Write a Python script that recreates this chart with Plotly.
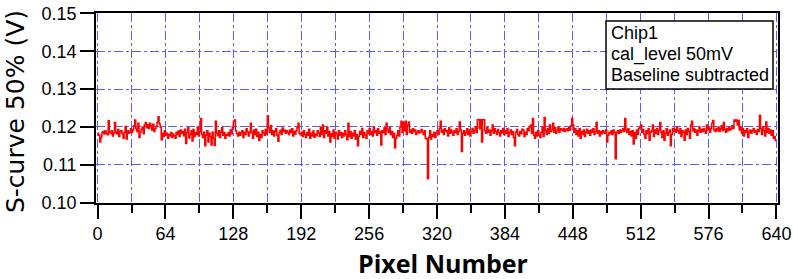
import plotly.graph_objects as go

# Data: S-curve 50% point per pixel (V), pixels 0..639
s50 = [
    0.1183, 0.1178, 0.1160, 0.1172, 0.1185, 0.1188, 0.1181, 0.1190, 0.1184, 0.1179, 0.1216, 0.1186, 0.1182, 0.1190, 0.1176, 0.1184,
    0.1212, 0.1185, 0.1181, 0.1193, 0.1175, 0.1187, 0.1190, 0.1182, 0.1170, 0.1186, 0.1201, 0.1168, 0.1190, 0.1183, 0.1186, 0.1195,
    0.1185, 0.1192, 0.1203, 0.1218, 0.1196, 0.1188, 0.1210, 0.1172, 0.1186, 0.1194, 0.1200, 0.1182, 0.1205, 0.1212, 0.1198, 0.1206,
    0.1196, 0.1210, 0.1203, 0.1192, 0.1207, 0.1188, 0.1195, 0.1201, 0.1212, 0.1227, 0.1208, 0.1200, 0.1166, 0.1183, 0.1175, 0.1190,
    0.1178, 0.1183, 0.1170, 0.1180, 0.1176, 0.1185, 0.1172, 0.1181, 0.1177, 0.1170, 0.1186, 0.1180, 0.1189, 0.1175, 0.1192, 0.1183,
    0.1188, 0.1177, 0.1194, 0.1156, 0.1185, 0.1198, 0.1171, 0.1180, 0.1190, 0.1163, 0.1193, 0.1175, 0.1185, 0.1180, 0.1200, 0.1176,
    0.1188, 0.1222, 0.1180, 0.1172, 0.1186, 0.1150, 0.1178, 0.1190, 0.1160, 0.1183, 0.1175, 0.1152, 0.1186, 0.1170, 0.1151, 0.1215,
    0.1183, 0.1177, 0.1190, 0.1172, 0.1186, 0.1198, 0.1178, 0.1185, 0.1170, 0.1180, 0.1178, 0.1185, 0.1176, 0.1192, 0.1182, 0.1200,
    0.1215, 0.1218, 0.1190, 0.1182, 0.1176, 0.1186, 0.1178, 0.1184, 0.1190, 0.1172, 0.1186, 0.1180, 0.1195, 0.1188, 0.1176, 0.1184,
    0.1210, 0.1185, 0.1170, 0.1192, 0.1180, 0.1194, 0.1175, 0.1186, 0.1164, 0.1180, 0.1172, 0.1190, 0.1184, 0.1178, 0.1193, 0.1181,
    0.1229, 0.1198, 0.1186, 0.1203, 0.1180, 0.1190, 0.1176, 0.1188, 0.1195, 0.1178, 0.1162, 0.1185, 0.1191, 0.1180, 0.1197, 0.1188,
    0.1192, 0.1183, 0.1190, 0.1186, 0.1180, 0.1192, 0.1185, 0.1195, 0.1176, 0.1188, 0.1181, 0.1190, 0.1198, 0.1210, 0.1183, 0.1179,
    0.1186, 0.1175, 0.1190, 0.1180, 0.1172, 0.1185, 0.1178, 0.1194, 0.1170, 0.1183, 0.1176, 0.1189, 0.1173, 0.1181, 0.1177, 0.1190,
    0.1184, 0.1175, 0.1198, 0.1180, 0.1205, 0.1172, 0.1190, 0.1183, 0.1200, 0.1176, 0.1188, 0.1160, 0.1182, 0.1175, 0.1192, 0.1170,
    0.1186, 0.1181, 0.1168, 0.1190, 0.1178, 0.1185, 0.1172, 0.1183, 0.1176, 0.1190, 0.1180, 0.1166, 0.1210, 0.1175, 0.1188, 0.1170,
    0.1183, 0.1176, 0.1190, 0.1168, 0.1180, 0.1150, 0.1175, 0.1188, 0.1180, 0.1196, 0.1172, 0.1185, 0.1178, 0.1170, 0.1190, 0.1182,
    0.1195, 0.1180, 0.1188, 0.1176, 0.1200, 0.1185, 0.1190, 0.1178, 0.1195, 0.1183, 0.1188, 0.1152, 0.1190, 0.1185, 0.1197, 0.1180,
    0.1210, 0.1192, 0.1185, 0.1198, 0.1180, 0.1188, 0.1172, 0.1183, 0.1145, 0.1170, 0.1178, 0.1190, 0.1176, 0.1200, 0.1215, 0.1185,
    0.1212, 0.1190, 0.1215, 0.1180, 0.1205, 0.1213, 0.1186, 0.1192, 0.1183, 0.1195, 0.1188, 0.1192, 0.1180, 0.1186, 0.1190, 0.1184,
    0.1188, 0.1193, 0.1186, 0.1180, 0.1190, 0.1170, 0.1168, 0.1063, 0.1173, 0.1190, 0.1168, 0.1180, 0.1175, 0.1186, 0.1172, 0.1183,
    0.1190, 0.1180, 0.1196, 0.1215, 0.1186, 0.1192, 0.1180, 0.1195, 0.1188, 0.1190, 0.1176, 0.1198, 0.1183, 0.1192, 0.1186, 0.1178,
    0.1190, 0.1185, 0.1195, 0.1180, 0.1188, 0.1213, 0.1192, 0.1135, 0.1183, 0.1190, 0.1178, 0.1186, 0.1195, 0.1180, 0.1192, 0.1176,
    0.1188, 0.1196, 0.1183, 0.1190, 0.1200, 0.1185, 0.1219, 0.1219, 0.1195, 0.1219, 0.1160, 0.1219, 0.1219, 0.1190, 0.1183, 0.1198,
    0.1186, 0.1192, 0.1178, 0.1190, 0.1205, 0.1183, 0.1195, 0.1188, 0.1180, 0.1193, 0.1186, 0.1176, 0.1190, 0.1184, 0.1196, 0.1180,
    0.1190, 0.1183, 0.1196, 0.1175, 0.1185, 0.1192, 0.1180, 0.1188, 0.1172, 0.1150, 0.1186, 0.1193, 0.1180, 0.1176, 0.1188, 0.1182,
    0.1194, 0.1192, 0.1175, 0.1186, 0.1180, 0.1196, 0.1190, 0.1200, 0.1205, 0.1183, 0.1222, 0.1178, 0.1170, 0.1186, 0.1176, 0.1190,
    0.1180, 0.1172, 0.1186, 0.1200, 0.1175, 0.1225, 0.1190, 0.1180, 0.1196, 0.1183, 0.1205, 0.1188, 0.1192, 0.1210, 0.1186, 0.1198,
    0.1183, 0.1190, 0.1200, 0.1186, 0.1195, 0.1193, 0.1190, 0.1196, 0.1188, 0.1192, 0.1195, 0.1190, 0.1198, 0.1192, 0.1203, 0.1222,
    0.1205, 0.1186, 0.1195, 0.1180, 0.1190, 0.1176, 0.1196, 0.1170, 0.1188, 0.1180, 0.1192, 0.1175, 0.1186, 0.1194, 0.1183, 0.1190,
    0.1178, 0.1192, 0.1186, 0.1195, 0.1180, 0.1188, 0.1212, 0.1183, 0.1190, 0.1176, 0.1188, 0.1182, 0.1190, 0.1186, 0.1183, 0.1192,
    0.1160, 0.1178, 0.1186, 0.1182, 0.1190, 0.1180, 0.1192, 0.1186, 0.1116, 0.1185, 0.1190, 0.1183, 0.1192, 0.1186, 0.1190, 0.1196,
    0.1188, 0.1222, 0.1192, 0.1185, 0.1195, 0.1180, 0.1188, 0.1176, 0.1190, 0.1155, 0.1185, 0.1170, 0.1192, 0.1180, 0.1196, 0.1200,
    0.1205, 0.1186, 0.1193, 0.1180, 0.1170, 0.1190, 0.1182, 0.1195, 0.1165, 0.1186, 0.1190, 0.1205, 0.1175, 0.1192, 0.1183, 0.1196,
    0.1180, 0.1192, 0.1212, 0.1186, 0.1172, 0.1190, 0.1165, 0.1183, 0.1195, 0.1178, 0.1186, 0.1192, 0.1150, 0.1180, 0.1196, 0.1188,
    0.1193, 0.1186, 0.1200, 0.1190, 0.1183, 0.1195, 0.1175, 0.1190, 0.1186, 0.1165, 0.1192, 0.1180, 0.1196, 0.1188, 0.1170, 0.1205,
    0.1215, 0.1190, 0.1196, 0.1186, 0.1192, 0.1178, 0.1190, 0.1200, 0.1186, 0.1193, 0.1188, 0.1196, 0.1190, 0.1183, 0.1205, 0.1192,
    0.1198, 0.1186, 0.1195, 0.1210, 0.1217, 0.1192, 0.1188, 0.1196, 0.1190, 0.1200, 0.1188, 0.1195, 0.1203, 0.1190, 0.1212, 0.1193,
    0.1186, 0.1196, 0.1190, 0.1199, 0.1192, 0.1195, 0.1203, 0.1196, 0.1218, 0.1215, 0.1218, 0.1205, 0.1217, 0.1192, 0.1200, 0.1183,
    0.1196, 0.1176, 0.1190, 0.1185, 0.1195, 0.1172, 0.1186, 0.1192, 0.1183, 0.1190, 0.1196, 0.1186, 0.1190, 0.1180, 0.1193, 0.1188,
    0.1231, 0.1195, 0.1180, 0.1200, 0.1190, 0.1176, 0.1213, 0.1186, 0.1196, 0.1183, 0.1192, 0.1178, 0.1190, 0.1170, 0.1175, 0.1162,
]
pixels = list(range(len(s50)))

x_ticks = [0, 64, 128, 192, 256, 320, 384, 448, 512, 576, 640]
y_ticks = [0.10, 0.11, 0.12, 0.13, 0.14, 0.15]
y_labels = ['0.10', '0.11', '0.12', '0.13', '0.14', '0.15']
info_lines = ['Chip1', 'cal_level 50mV', 'Baseline subtracted']

grid_col = '#5c5cf5'
label_font = dict(family='Liberation Sans, Arial', size=18, color='black')

fig = go.Figure()
fig.add_trace(go.Scatter(
    x=pixels, y=s50,
    mode='lines',
    line=dict(color='#ff0000', width=1.5, shape='hv'),
    showlegend=False,
))

fig.update_xaxes(
    range=[-1.5, 641.5], automargin=False,
    tickvals=x_ticks,
    tickfont=label_font, ticklabelstandoff=0, ticklabeloverflow='allow',
    ticks='outside', ticklen=14, tickwidth=1.5, tickcolor='black',
    showline=True, linecolor='black', linewidth=1.5, mirror=True,
    showgrid=True, gridcolor=grid_col, gridwidth=1, griddash='dashdot',
    minor=dict(dtick=32, tick0=0, ticks='outside', ticklen=8, tickwidth=1.5,
               tickcolor='black', showgrid=True, gridcolor=grid_col,
               griddash='dashdot', gridwidth=1),
    zeroline=False,
)
fig.update_yaxes(
    range=[0.0999, 0.1501], automargin=False,
    tickvals=y_ticks, ticktext=y_labels,
    tickfont=label_font, ticklabeloverflow='allow',
    ticks='outside', ticklen=14, tickwidth=1.5, tickcolor='black',
    showline=True, linecolor='black', linewidth=1.5, mirror=True,
    showgrid=True, gridcolor=grid_col, gridwidth=1, griddash='dashdot',
    zeroline=False,
)

# axis titles placed as annotations
fig.add_annotation(
    xref='paper', yref='paper', x=0.5088, y=-0.316,
    xanchor='center', yanchor='middle', showarrow=False,
    text='<b>Pixel Number</b>',
    font=dict(family='Open Sans', size=25, color='black'),
)
fig.add_annotation(
    xref='paper', yref='paper', x=-0.1188, y=0.484,
    xanchor='center', yanchor='middle', showarrow=False, textangle=-90,
    text='S-curve 50% (V)',
    font=dict(family='DejaVu Sans', size=25, color='black'),
)

# info box
fig.add_shape(
    type='rect', xref='paper', yref='paper',
    x0=0.7478, x1=0.9927, y0=0.60, y1=0.958,
    line=dict(color='black', width=1.5), fillcolor='white', layer='above',
)
for line_text, ypos in zip(info_lines, [0.8947, 0.7842, 0.6737]):
    fig.add_annotation(
        xref='paper', yref='paper', x=0.7522, y=ypos,
        xanchor='left', yanchor='middle', showarrow=False,
        text=line_text,
        font=dict(family='Liberation Sans, Arial', size=18, color='black'),
    )

fig.update_layout(
    width=793, height=279,
    margin=dict(l=96, r=15, t=13, b=76),
    plot_bgcolor='white', paper_bgcolor='white',
)

# drop the default 8px page margin so the figure fills the window exactly
fig.write_html("out.html", config={'displayModeBar': False},
               post_script="document.body.style.margin = '0';")
